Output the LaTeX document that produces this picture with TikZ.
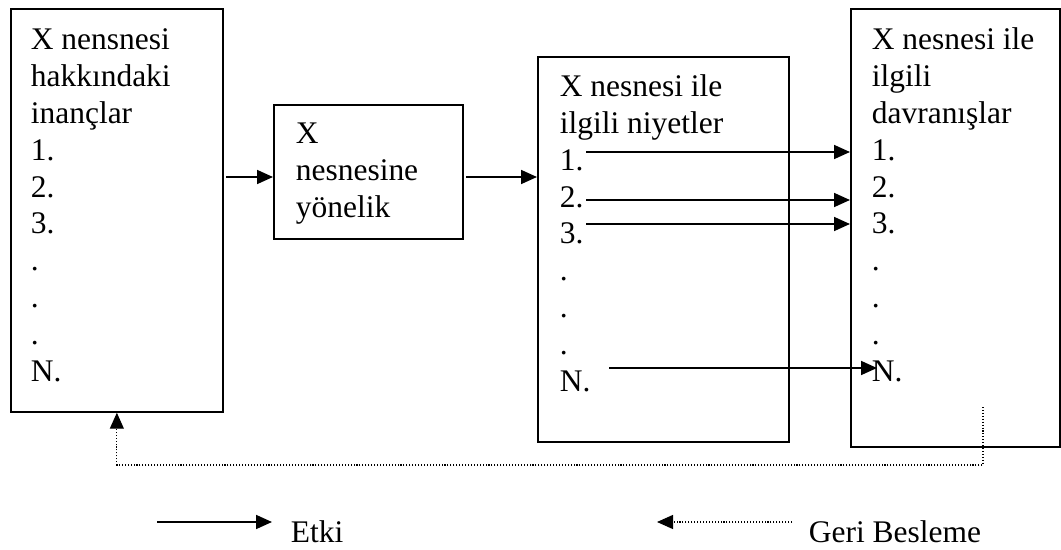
\documentclass[tikz,border=0pt]{standalone}
\usepackage{fontspec}
\setmainfont{Liberation Serif}
\usetikzlibrary{arrows.meta}

\begin{document}
\begin{tikzpicture}[x=0.75pt, y=-0.75pt, line width=1.3pt,
	box/.style = {draw, rectangle, inner sep=0pt, anchor=north west},
	txt/.style = {inner sep=0pt, anchor=base west, align=left, font=\fontsize{23.6}{27.6}\selectfont},
	etki/.style = {-{Triangle[length=12pt, width=10.5pt]}},
	geri/.style = {line width=0.9pt, dash pattern=on 0.8pt off 1.4pt, -{Triangle[length=12pt, width=10.5pt]}}]
	\useasboundingbox (0,0) rectangle (1061,550);
	\node[box, minimum width=212*0.75pt, minimum height=403*0.75pt] (b1) at (10,8) {};
	\node[box, minimum width=189*0.75pt, minimum height=134*0.75pt] (b2) at (273,104) {};
	\node[box, minimum width=251*0.75pt, minimum height=385*0.75pt] (b3) at (537,56) {};
	\node[box, minimum width=209*0.75pt, minimum height=438*0.75pt] (b4) at (850,8) {};
	\node[txt] (t1) at (30,381) {X nensnesi\\hakkındaki\\inançlar\\1.\\2.\\3.\\.\\.\\.\\N.};
	\node[txt] (t2) at (295,217) {X\\nesnesine\\yönelik};
	\node[txt] (t3) at (559,391) {X nesnesi ile\\ilgili niyetler\\1.\\2.\\3.\\.\\.\\.\\N.};
	\node[txt] (t4) at (871,381) {X nesnesi ile\\ilgili\\davranışlar\\1.\\2.\\3.\\.\\.\\.\\N.};
	\coordinate (a12) at (226,177);
	\coordinate (a23) at (466,177);
	\coordinate (n1) at (586,152);
	\coordinate (n2) at (586,200);
	\coordinate (n3) at (586,224);
	\coordinate (nn) at (609,368);
	\coordinate (dn) at (877,368);
	\coordinate (g0) at (983,407);
	\coordinate (g1) at (983,465);
	\draw[etki] (a12) -- (a12 -| b2.west);
	\draw[etki] (a23) -- (a23 -| b3.west);
	\draw[etki] (n1) -- (n1 -| b4.west);
	\draw[etki] (n2) -- (n2 -| b4.west);
	\draw[etki] (n3) -- (n3 -| b4.west);
	\draw[etki] (nn) -- (dn);
	\draw[geri] (g0) -- (g1) -| (b1.south);
	\coordinate (e0) at (157,522);
	\coordinate (e1) at (272,522);
	\coordinate (f0) at (792,522);
	\coordinate (f1) at (657,522);
	\draw[etki] (e0) -- (e1);
	\draw[geri] (f0) -- (f1);
	\node[txt] (etkitxt) at (290,542) {Etki};
	\node[txt] (geritxt) at (808,542) {Geri Besleme};
\end{tikzpicture}
\end{document}
